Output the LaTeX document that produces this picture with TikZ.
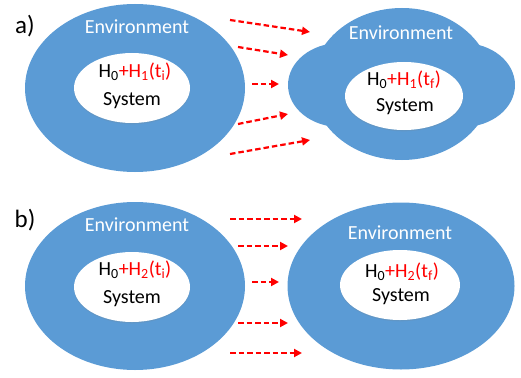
\documentclass[tikz,border=0pt]{standalone}
\usepackage{fontspec}
\setmainfont{Carlito}
\usetikzlibrary{shapes.geometric,arrows.meta,shadows}
\definecolor{envblue}{HTML}{5B9BD5}
\definecolor{hred}{HTML}{FF0000}
\begin{document}
\begin{tikzpicture}[x=1pt,y=-1pt,
  envshape/.style={ellipse, fill=envblue, draw=none, inner sep=0pt},
  sysshape/.style={ellipse, fill=white, draw=none, inner sep=0pt,
    drop shadow={opacity=0.18,shadow xshift=0pt,shadow yshift=-1.3pt}},
  envtext/.style={text=white, font=\fontsize{20}{22}\selectfont, inner sep=0pt},
  systext/.style={text=black, font=\fontsize{20}{22}\selectfont, inner sep=0pt},
  panellabel/.style={font=\fontsize{25}{28}\selectfont, inner sep=0pt},
  flow/.style={draw=hred, line width=2.2pt, dash pattern=on 5.5pt off 3pt,
    -{Triangle[length=8pt,width=8pt]}}
]
\useasboundingbox (0,0) rectangle (521,377);

% ---------- panel a ----------
\node[panellabel] (la) at (25,26) {a)};
\node[envshape, minimum width=220pt, minimum height=168pt] (envAL) at (135,88) {};
\node[sysshape, minimum width=116pt, minimum height=70pt] (sysAL) at (132,88) {};
\node[envtext] (etAL) at (137,27) {Environment};
\node[systext] (hAL) at (135,72) {H\textsubscript{0}\textcolor{hred}{+H\textsubscript{1}(t\textsubscript{i})}};
\node[systext] (sAL) at (132,101) {System};

% cloud-like environment (ellipse with two side lobes)
\node[envshape, minimum width=180pt, minimum height=152pt] (envARv) at (402,84) {};
\node[envshape, minimum width=104pt, minimum height=84pt] (envARl) at (340,85) {};
\node[envshape, minimum width=104pt, minimum height=84pt] (envARr) at (463,85) {};
\node[sysshape, minimum width=118pt, minimum height=68pt] (sysAR) at (404,96) {};
\node[envtext] (etAR) at (401,33) {Environment};
\node[systext] (hAR) at (404,80) {H\textsubscript{0}\textcolor{hred}{+H\textsubscript{1}(t\textsubscript{f})}};
\node[systext] (sAR) at (405,107) {System};

\coordinate (a1s) at (230,20);  \coordinate (a1e) at (310,32);
\coordinate (a2s) at (238,47);  \coordinate (a2e) at (288,55);
\coordinate (a3s) at (252,84);  \coordinate (a3e) at (279,84);
\coordinate (a4s) at (238,124); \coordinate (a4e) at (288,114);
\coordinate (a5s) at (230,154); \coordinate (a5e) at (310,140);
\foreach \i in {1,...,5} \draw[flow] (a\i s) -- (a\i e);

% ---------- panel b ----------
\node[panellabel] (lb) at (25,220) {b)};
\node[envshape, minimum width=220pt, minimum height=168pt] (envBL) at (135,286) {};
\node[sysshape, minimum width=116pt, minimum height=70pt] (sysBL) at (132,287) {};
\node[envtext] (etBL) at (137,225) {Environment};
\node[systext] (hBL) at (135,270) {H\textsubscript{0}\textcolor{hred}{+H\textsubscript{2}(t\textsubscript{i})}};
\node[systext] (sBL) at (132,299) {System};

\node[envshape, minimum width=227pt, minimum height=167pt] (envBR) at (401,286) {};
\node[sysshape, minimum width=120pt, minimum height=70pt] (sysBR) at (400,285) {};
\node[envtext] (etBR) at (400,233) {Environment};
\node[systext] (hBR) at (402,272) {H\textsubscript{0}\textcolor{hred}{+H\textsubscript{2}(t\textsubscript{f})}};
\node[systext] (sBR) at (401,297) {System};

\coordinate (b1s) at (230,219); \coordinate (b1e) at (302,219);
\coordinate (b2s) at (238,246); \coordinate (b2e) at (288,246);
\coordinate (b3s) at (252,282); \coordinate (b3e) at (279,282);
\coordinate (b4s) at (238,323); \coordinate (b4e) at (288,323);
\coordinate (b5s) at (230,353); \coordinate (b5e) at (302,353);
\foreach \i in {1,...,5} \draw[flow] (b\i s) -- (b\i e);
\end{tikzpicture}
\end{document}
